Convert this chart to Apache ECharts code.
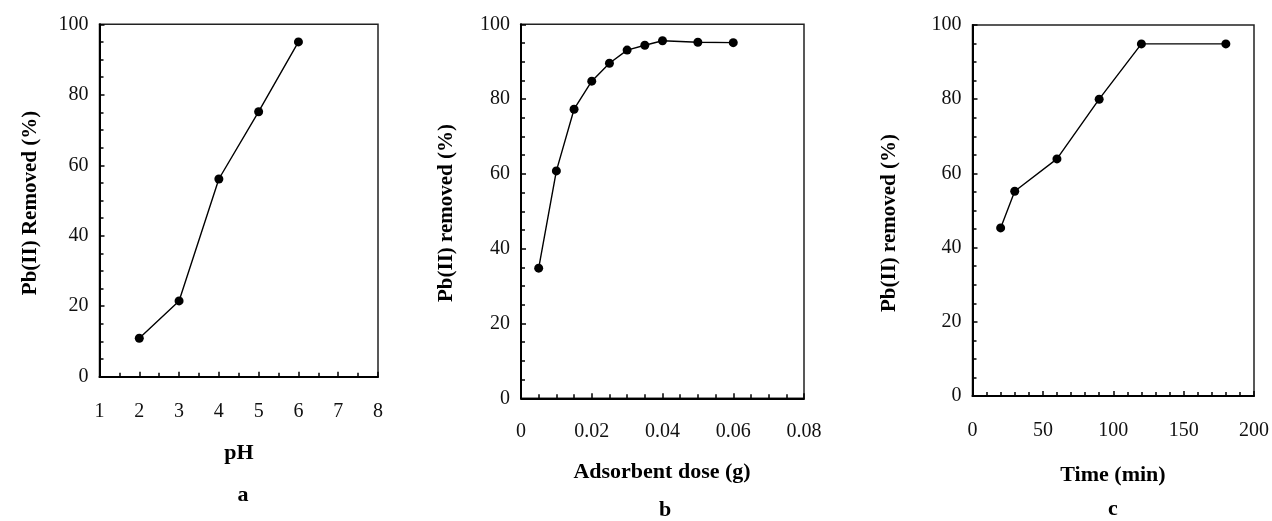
<!DOCTYPE html>
<html>
<head>
<meta charset="utf-8">
<script src="https://cdn.jsdelivr.net/npm/echarts@6/dist/echarts.min.js"></script>
<style>
    html, body { margin: 0; padding: 0; background: #fff; }
    #chart { width: 1272px; height: 521px; }
</style>
</head>
<body>
<div id="chart"></div>
<script>
// panel a: removal vs pH
let ph_values = [2, 3, 4, 5, 6];
let ph_removed = [10.9, 21.5, 56.1, 75.2, 95.0];

// panel b: removal vs adsorbent dose (g)
let dose_values = [0.005, 0.01, 0.015, 0.02, 0.025, 0.03, 0.035, 0.04, 0.05, 0.06];
let dose_removed = [34.8, 60.8, 77.3, 84.8, 89.6, 93.1, 94.4, 95.6, 95.2, 95.1];

// panel c: removal vs contact time (min)
let time_values = [20, 30, 60, 90, 120, 180];
let time_removed = [45.3, 55.2, 63.9, 80.0, 94.9, 94.9];

let font_family = '"Liberation Serif", "Times New Roman", serif';

let pairs = function (xs, ys) {
    return xs.map(function (x, i) {
        return [x, ys[i]];
    });
};

let make_grid = function (left, top, width, height) {
    return {
        left: left, top: top, width: width, height: height,
        show: true,
        borderColor: '#222',
        borderWidth: 1.5,
        containLabel: false
    };
};

let make_x_axis = function (index, min, max, interval, minor_split, margin) {
    return {
        type: 'value',
        gridIndex: index,
        min: min,
        max: max,
        interval: interval,
        axisLine: {onZero: false, lineStyle: {color: '#000', width: 2}},
        axisTick: {inside: true, length: 5, lineStyle: {color: '#000', width: 1.5}},
        minorTick: {show: true, splitNumber: minor_split, length: 4, lineStyle: {color: '#000', width: 1.5}},
        splitLine: {show: false},
        axisLabel: {
            color: '#111', fontFamily: font_family, fontSize: 20, margin: margin,
            showMinLabel: true, showMaxLabel: true
        }
    };
};

let make_y_axis = function (index) {
    return {
        type: 'value',
        gridIndex: index,
        min: 0,
        max: 100,
        interval: 20,
        axisLine: {onZero: false, lineStyle: {color: '#000', width: 2}},
        axisTick: {inside: true, length: 5, lineStyle: {color: '#000', width: 1.5}},
        minorTick: {show: true, splitNumber: 4, length: 4, lineStyle: {color: '#000', width: 1.5}},
        splitLine: {show: false},
        axisLabel: {color: '#111', fontFamily: font_family, fontSize: 20, margin: 11}
    };
};

let make_series = function (index, data) {
    return {
        type: 'line',
        xAxisIndex: index,
        yAxisIndex: index,
        data: data,
        symbol: 'circle',
        symbolSize: 9,
        lineStyle: {color: '#000', width: 1.4},
        itemStyle: {color: '#000'},
        animation: false
    };
};

let label_text = function (x, y, text, rotate, size) {
    return {
        type: 'text',
        x: x,
        y: y,
        rotation: rotate ? Math.PI / 2 : 0,
        style: {
            text: text,
            fill: '#000',
            font: 'bold ' + size + 'px ' + font_family,
            textAlign: 'center',
            textVerticalAlign: 'middle'
        }
    };
};

let myChart = echarts.init(document.getElementById('chart'), null, {renderer: 'canvas'});

let option = {
    backgroundColor: '#fff',
    animation: false,
    grid: [
        make_grid(99.5, 24.3, 278.5, 352.4),
        make_grid(521, 24.3, 283, 374),
        make_grid(972.5, 25, 281.5, 371)
    ],
    xAxis: [
        make_x_axis(0, 1, 8, 1, 2, 25),
        make_x_axis(1, 0, 0.08, 0.02, 4, 23),
        make_x_axis(2, 0, 200, 50, 5, 25)
    ],
    yAxis: [make_y_axis(0), make_y_axis(1), make_y_axis(2)],
    series: [
        make_series(0, pairs(ph_values, ph_removed)),
        make_series(1, pairs(dose_values, dose_removed)),
        make_series(2, pairs(time_values, time_removed))
    ],
    graphic: [
        label_text(31, 203, 'Pb(II) Removed (%)', true, 21),
        label_text(239, 453, 'pH', false, 22),
        label_text(243, 495, 'a', false, 22),
        label_text(447, 213, 'Pb(II) removed (%)', true, 21),
        label_text(662, 472, 'Adsorbent dose (g)', false, 22),
        label_text(665, 510, 'b', false, 22),
        label_text(890, 223, 'Pb(II) removed (%)', true, 21),
        label_text(1113, 475, 'Time (min)', false, 22),
        label_text(1113, 509, 'c', false, 22)
    ]
};

myChart.setOption(option);
</script>
</body>
</html>
